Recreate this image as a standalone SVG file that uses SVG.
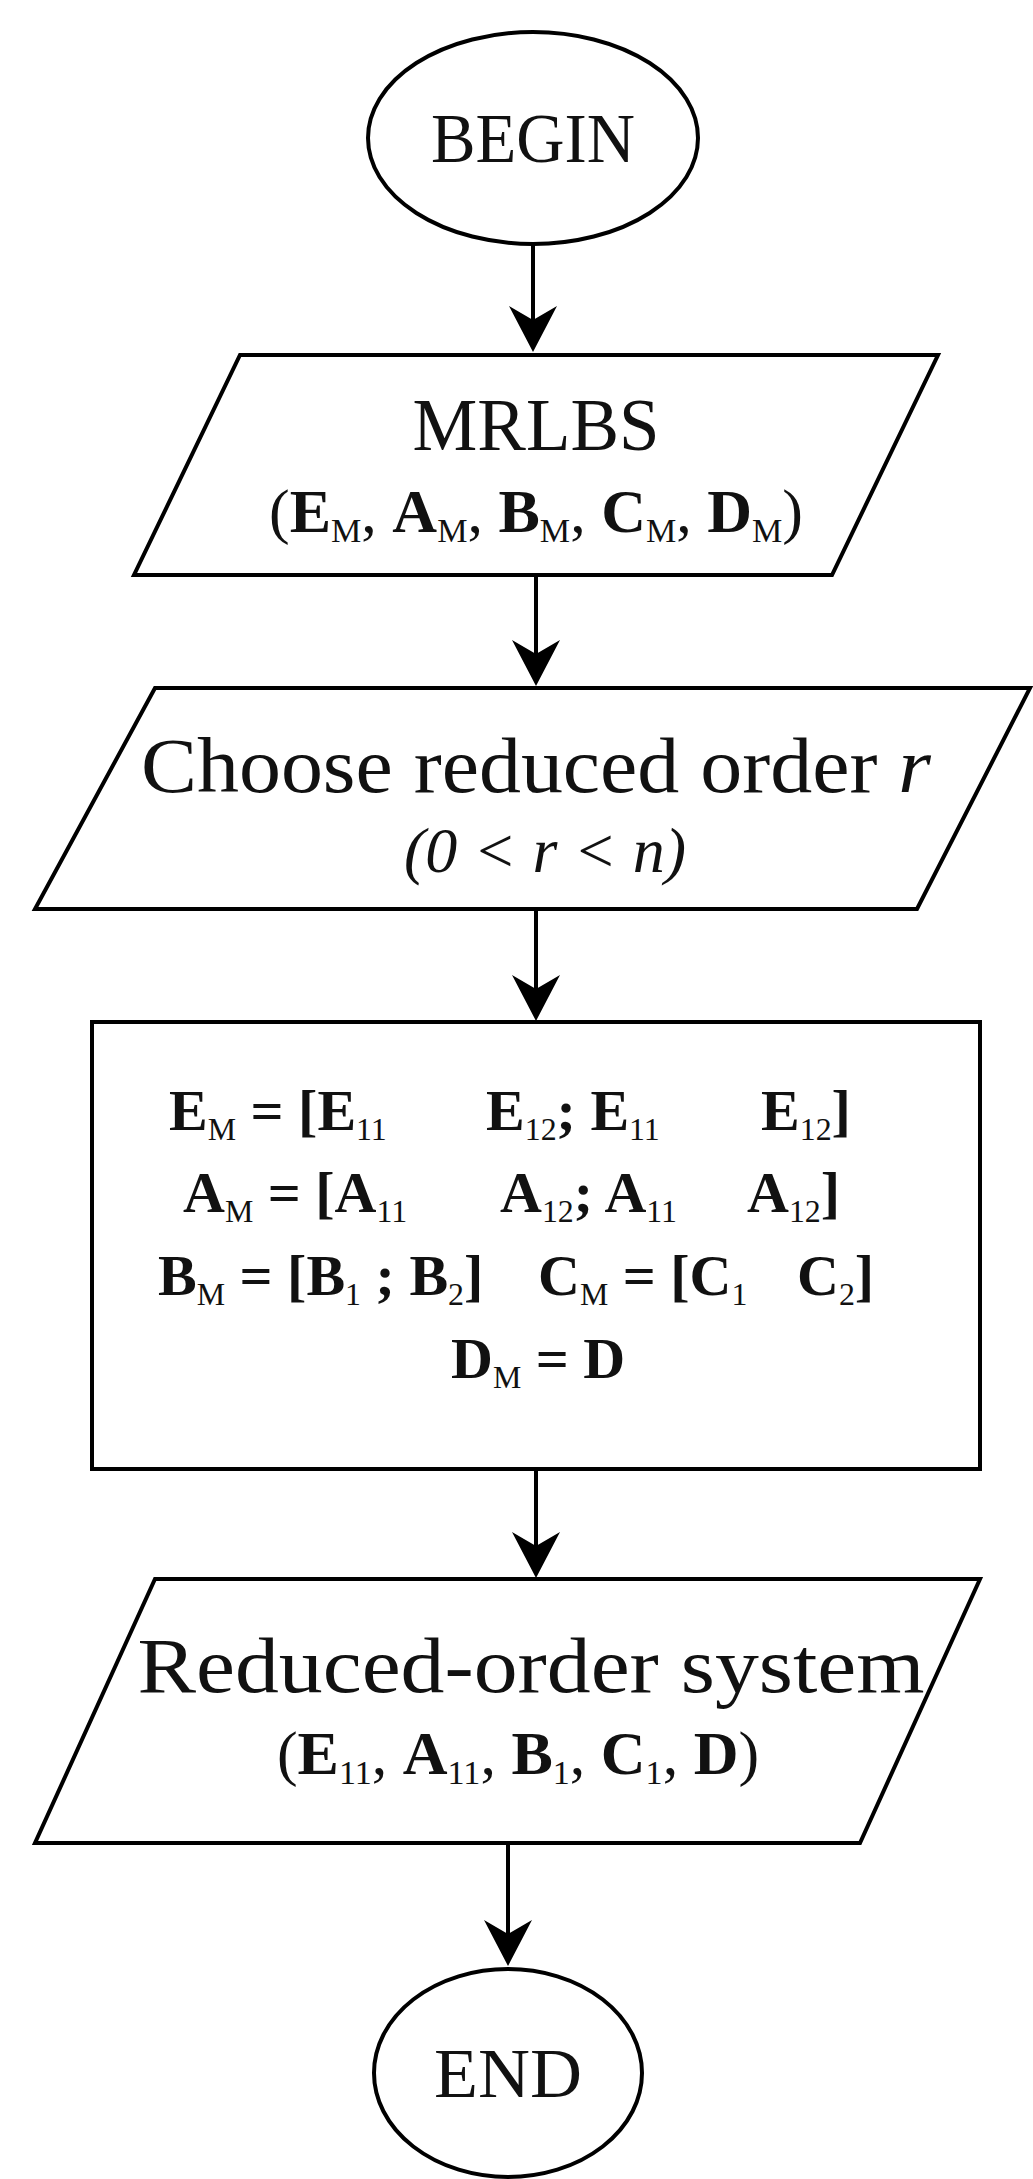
<svg xmlns="http://www.w3.org/2000/svg" width="1033" height="2179" viewBox="0 0 1033 2179">
<defs>
<style>
.s{fill:#fff;stroke:#000;stroke-width:4}
.t{font-family:"Liberation Serif","DejaVu Serif",serif;fill:#111}
.b{font-weight:bold}
.sub{font-size:55%;font-weight:normal}
line{stroke:#000;stroke-width:4}
</style>
</defs>
<rect width="1033" height="2179" fill="#fff"/>
<g id="connectors">
<line x1="533" y1="244" x2="533" y2="320"/><path d="M509,306 L533,352 L557,306 L533,320 Z"/>
<line x1="536" y1="575" x2="536" y2="654"/><path d="M512,640 L536,686 L560,640 L536,654 Z"/>
<line x1="536" y1="909" x2="536" y2="989"/><path d="M512,975 L536,1021 L560,975 L536,989 Z"/>
<line x1="536" y1="1469" x2="536" y2="1546"/><path d="M512,1532 L536,1578 L560,1532 L536,1546 Z"/>
<line x1="508" y1="1843" x2="508" y2="1934"/><path d="M484,1920 L508,1966 L532,1920 L508,1934 Z"/>
</g>
<g id="begin">
<ellipse class="s" cx="533" cy="138" rx="165" ry="106"/>
<text class="t" x="533" y="162" font-size="70" text-anchor="middle" textLength="204" lengthAdjust="spacingAndGlyphs">BEGIN</text>
</g>
<g id="input">
<polygon class="s" points="240,355 938,355 832,575 134,575"/>
<text class="t" x="536" y="450" font-size="74" text-anchor="middle" textLength="247" lengthAdjust="spacingAndGlyphs">MRLBS</text>
<text class="t" x="536" y="532" font-size="62" text-anchor="middle">(<tspan class="b">E</tspan><tspan class="sub" dy="10">M</tspan><tspan dy="-10">, </tspan><tspan class="b">A</tspan><tspan class="sub" dy="10">M</tspan><tspan dy="-10">, </tspan><tspan class="b">B</tspan><tspan class="sub" dy="10">M</tspan><tspan dy="-10">, </tspan><tspan class="b">C</tspan><tspan class="sub" dy="10">M</tspan><tspan dy="-10">, </tspan><tspan class="b">D</tspan><tspan class="sub" dy="10">M</tspan><tspan dy="-10">)</tspan></text>
</g>
<g id="choose">
<polygon class="s" points="155,688 1030,688 917,909 35,909"/>
<text class="t" x="536" y="792" font-size="78" text-anchor="middle" textLength="790" lengthAdjust="spacingAndGlyphs">Choose reduced order <tspan font-style="italic">r</tspan></text>
<text class="t" x="545" y="872" font-size="64" text-anchor="middle" font-style="italic">(0 &lt; r &lt; n)</text>
</g>
<g id="partition">
<rect class="s" x="92" y="1022" width="888" height="447"/>
<text class="t b" font-size="58" y="1130"><tspan x="169">E</tspan><tspan class="sub" dy="10">M</tspan><tspan dy="-10"> = [E</tspan><tspan class="sub" dy="10">11</tspan><tspan x="486" dy="-10">E</tspan><tspan class="sub" dy="10">12</tspan><tspan dy="-10">; E</tspan><tspan class="sub" dy="10">11</tspan><tspan x="761" dy="-10">E</tspan><tspan class="sub" dy="10">12</tspan><tspan dy="-10">]</tspan></text>
<text class="t b" font-size="58" y="1212"><tspan x="183">A</tspan><tspan class="sub" dy="10">M</tspan><tspan dy="-10"> = [A</tspan><tspan class="sub" dy="10">11</tspan><tspan x="500" dy="-10">A</tspan><tspan class="sub" dy="10">12</tspan><tspan dy="-10">; A</tspan><tspan class="sub" dy="10">11</tspan><tspan x="747" dy="-10">A</tspan><tspan class="sub" dy="10">12</tspan><tspan dy="-10">]</tspan></text>
<text class="t b" font-size="58" y="1295"><tspan x="158">B</tspan><tspan class="sub" dy="10">M</tspan><tspan dy="-10"> = [B</tspan><tspan class="sub" dy="10">1</tspan><tspan dy="-10"> ; B</tspan><tspan class="sub" dy="10">2</tspan><tspan dy="-10">]</tspan><tspan x="538">C</tspan><tspan class="sub" dy="10">M</tspan><tspan dy="-10"> = [C</tspan><tspan class="sub" dy="10">1</tspan><tspan x="797" dy="-10">C</tspan><tspan class="sub" dy="10">2</tspan><tspan dy="-10">]</tspan></text>
<text class="t b" font-size="58" y="1378"><tspan x="451">D</tspan><tspan class="sub" dy="10">M</tspan><tspan dy="-10"> = D</tspan></text>
</g>
<g id="output">
<polygon class="s" points="155,1579 980,1579 860,1843 35,1843"/>
<text class="t" x="531" y="1692" font-size="78" text-anchor="middle" textLength="787" lengthAdjust="spacingAndGlyphs">Reduced-order system</text>
<text class="t" x="518" y="1774" font-size="62" text-anchor="middle">(<tspan class="b">E</tspan><tspan class="sub" dy="10">11</tspan><tspan dy="-10">, </tspan><tspan class="b">A</tspan><tspan class="sub" dy="10">11</tspan><tspan dy="-10">, </tspan><tspan class="b">B</tspan><tspan class="sub" dy="10">1</tspan><tspan dy="-10">, </tspan><tspan class="b">C</tspan><tspan class="sub" dy="10">1</tspan><tspan dy="-10">, </tspan><tspan class="b">D</tspan>)</text>
</g>
<g id="end">
<ellipse class="s" cx="508" cy="2073" rx="134" ry="104"/>
<text class="t" x="508" y="2097" font-size="70" text-anchor="middle" textLength="148" lengthAdjust="spacingAndGlyphs">END</text>
</g>
</svg>
